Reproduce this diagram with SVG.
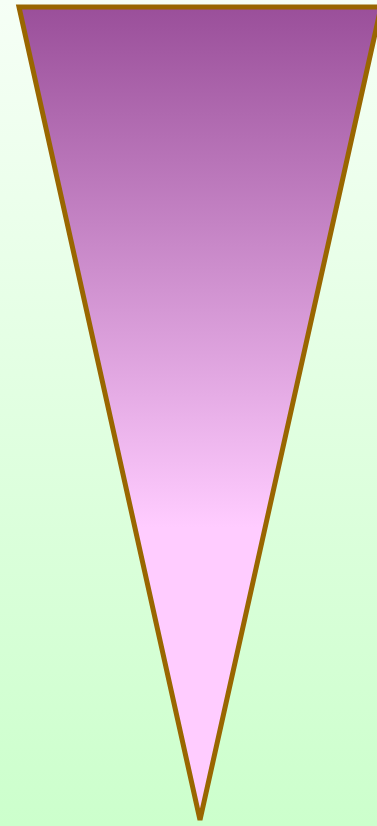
<svg xmlns="http://www.w3.org/2000/svg" width="377" height="826" viewBox="0 0 377 826">
<defs>
<linearGradient id="bg" x1="0" y1="0" x2="0" y2="1">
<stop offset="0" stop-color="#f6fff6"/>
<stop offset="1" stop-color="#ccffcc"/>
</linearGradient>
<linearGradient id="tri" x1="0" y1="0" x2="0" y2="1">
<stop offset="0" stop-color="#9a4f9a"/>
<stop offset="0.64" stop-color="#ffccff"/>
<stop offset="1" stop-color="#ffccff"/>
</linearGradient>
</defs>
<rect width="377" height="826" fill="url(#bg)"/>
<g id="triangle">
<polygon points="19,7 381,7 200,820" fill="url(#tri)" stroke="#996600" stroke-width="5" stroke-linejoin="miter"/>
</g>
</svg>
